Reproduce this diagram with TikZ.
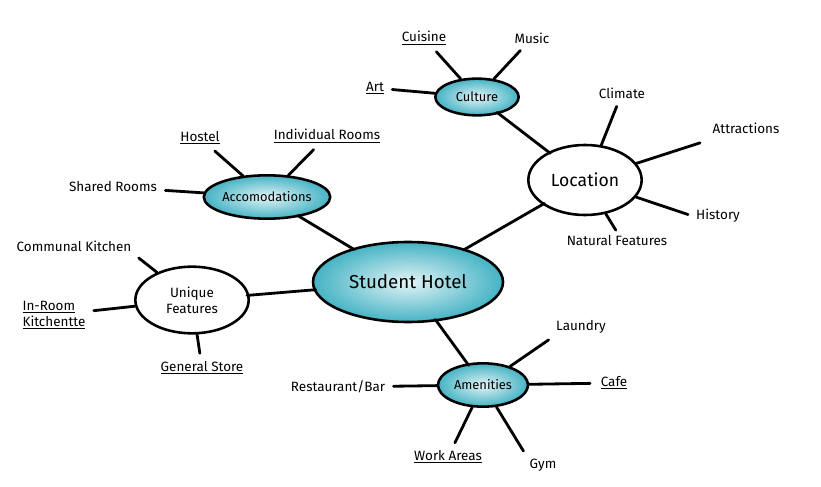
\documentclass[tikz,border=0pt]{standalone}
\usepackage{fontspec}
\setmainfont{Fira Sans}
\usetikzlibrary{shapes.geometric}
\definecolor{teal1}{HTML}{45B3C4}
\begin{document}
\begin{tikzpicture}[x=0.03cm,y=-0.03cm,
  hub/.style={ellipse,draw=black,line width=2.2pt,inner sep=0pt},
  tealhub/.style={hub,shading=radial,inner color=white!85!teal1,outer color=teal1},
  whitehub/.style={hub,fill=white},
  lbl/.style={font=\fontsize{11.5}{13.5}\selectfont,inner sep=3pt,align=center},
  spoke/.style={line width=2.4pt,line cap=round,shorten >=4pt}]
\useasboundingbox (0,0) rectangle (821,487);
\node[tealhub,minimum width=5.7cm,minimum height=2.4cm,font=\fontsize{16}{18}\selectfont] (sh) at (408,282) {Student Hotel};
\node[whitehub,minimum width=3.4cm,minimum height=2.1cm,font=\fontsize{15}{17}\selectfont] (loc) at (585,180) {Location};
\node[tealhub,minimum width=2.5cm,minimum height=1.1cm,font=\fontsize{11}{13}\selectfont] (cul) at (477,97) {Culture};
\node[tealhub,minimum width=3.7cm,minimum height=1.3cm,font=\fontsize{11}{13}\selectfont] (acc) at (267,197) {Accomodations};
\node[whitehub,minimum width=3.4cm,minimum height=2cm,align=center,font=\fontsize{11.5}{13.5}\selectfont] (uf) at (192,300) {Unique\\Features};
\node[tealhub,minimum width=2.7cm,minimum height=1.3cm,font=\fontsize{11}{13}\selectfont] (am) at (483,385) {Amenities};

\node[lbl] (cuisine) at (424,38) {\underline{Cuisine}};
\node[lbl] (music) at (532,38) {Music};
\node[lbl] (art) at (375,88) {\underline{Art}};
\node[lbl] (climate) at (622,93) {Climate};
\node[lbl] (attr) at (746,128) {Attractions};
\node[lbl] (hist) at (718,216) {History};
\node[lbl] (nat) at (617,241) {Natural Features};
\node[lbl] (hostel) at (200,138) {\underline{Hostel}};
\node[lbl] (indiv) at (327,136) {\underline{Individual Rooms}};
\node[lbl] (shared) at (113,187) {Shared Rooms};
\node[lbl] (comm) at (74,246) {Communal Kitchen};
\node[lbl,align=left] (inroom) at (54,315) {\underline{In-Room}\\\underline{Kitchentte}};
\node[lbl] (gen) at (202,368) {\underline{General Store}};
\node[lbl] (laundry) at (581,327) {Laundry};
\node[lbl] (cafe) at (614,383) {\underline{Cafe}};
\node[lbl] (rest) at (338,387) {Restaurant/Bar};
\node[lbl] (work) at (448,457) {\underline{Work Areas}};
\node[lbl] (gym) at (543,465) {Gym};

\draw[spoke,shorten <=-2pt,shorten >=-2pt] (cul) -- (loc);
\draw[spoke,shorten <=-2pt,shorten >=-2pt] (loc) -- (sh);
\draw[spoke,shorten <=-2pt,shorten >=-2pt] (acc) -- (sh);
\draw[spoke,shorten <=-2pt,shorten >=-2pt] (uf) -- (sh);
\draw[spoke,shorten <=-2pt,shorten >=-2pt] (sh) -- (am);
\draw[spoke] (cul) -- (cuisine);
\draw[spoke] (cul) -- (music);
\draw[spoke] (cul) -- (art);
\draw[spoke] (loc.65) -- (climate);
\draw[spoke,shorten >=16pt] (loc) -- (attr);
\draw[spoke] (loc) -- (hist.west);
\draw[spoke,shorten >=2pt] (loc) -- (nat.north);
\draw[spoke] (acc) -- (hostel);
\draw[spoke] (acc) -- (indiv);
\draw[spoke] (acc) -- (shared);
\draw[spoke] (uf) -- (comm.south east);
\draw[spoke] (uf) -- (inroom);
\draw[spoke] (uf) -- (gen);
\draw[spoke] (am) -- (laundry.south west);
\draw[spoke,shorten >=6pt] (am) -- (cafe);
\draw[spoke] (am) -- (rest);
\draw[spoke] (am) -- (work);
\draw[spoke] (am) -- (gym.north west);
\end{tikzpicture}
\end{document}
